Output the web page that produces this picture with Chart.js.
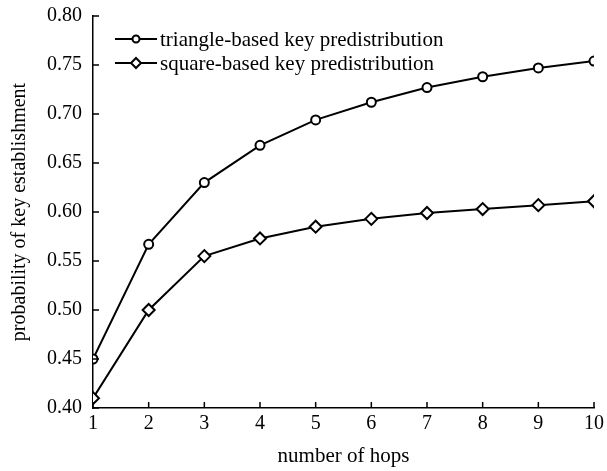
<!DOCTYPE html>
<html>
<head>
    <title>Key establishment</title>
    <script src="https://cdn.jsdelivr.net/npm/chart.js"></script>
    <style>
        body { margin: 0; padding: 0; background: #fff; }
        #wrap { width: 607px; height: 471px; }
    </style>
</head>
<body>
    <div id="wrap"><canvas id="myChart"></canvas></div>
    <script>
        const hops = [1, 2, 3, 4, 5, 6, 7, 8, 9, 10];
        const triangleVals = [0.450, 0.567, 0.630, 0.668, 0.694, 0.712, 0.727, 0.738, 0.747, 0.754];
        const squareVals = [0.410, 0.500, 0.555, 0.573, 0.585, 0.593, 0.599, 0.603, 0.607, 0.611];
        const seriesNames = ['triangle-based key predistribution', 'square-based key predistribution'];
        const yTicks = [0.40, 0.45, 0.50, 0.55, 0.60, 0.65, 0.70, 0.75, 0.80];

        const serif = "'Liberation Serif', 'DejaVu Serif', serif";

        // ticks pointing into the plot + line-with-marker legend
        const inwardTicks = {
            id: 'inwardTicks',
            afterDraw(chart) {
                const c = chart.ctx, a = chart.chartArea;
                const xs = chart.scales.x, ys = chart.scales.y;
                c.save();
                c.strokeStyle = '#000';
                c.lineWidth = 1.5;
                c.beginPath();
                hops.forEach(h => {
                    const px = xs.getPixelForValue(h);
                    c.moveTo(px, a.bottom);
                    c.lineTo(px, a.bottom - 6);
                });
                yTicks.forEach(v => {
                    const py = ys.getPixelForValue(v);
                    c.moveTo(a.left, py);
                    c.lineTo(a.left + 6, py);
                });
                c.stroke();

                // legend
                c.font = '21px ' + serif;
                c.textBaseline = 'middle';
                c.fillStyle = '#000';
                chart.data.datasets.forEach((ds, i) => {
                    const y = 39 + i * 24;
                    c.lineWidth = 2;
                    c.beginPath();
                    c.moveTo(115, y);
                    c.lineTo(157, y);
                    c.stroke();
                    c.fillStyle = '#fff';
                    c.beginPath();
                    if (ds.pointStyle === 'circle') {
                        c.arc(136, y, 3.5, 0, Math.PI * 2);
                    } else {
                        c.moveTo(136, y - 5); c.lineTo(141, y); c.lineTo(136, y + 5); c.lineTo(131, y); c.closePath();
                    }
                    c.fill();
                    c.stroke();
                    c.fillStyle = '#000';
                    c.fillText(ds.label, 160, y + 1);
                });
                c.restore();
            }
        };

        new Chart(document.getElementById('myChart'), {
            type: 'line',
            data: {
                datasets: [{
                    label: seriesNames[0],
                    data: hops.map((h, i) => ({ x: h, y: triangleVals[i] })),
                    borderColor: '#000',
                    borderWidth: 2,
                    pointStyle: 'circle',
                    pointRadius: 4.5,
                    pointBackgroundColor: '#fff',
                    pointBorderColor: '#000',
                    pointBorderWidth: 2,
                    tension: 0
                }, {
                    label: seriesNames[1],
                    data: hops.map((h, i) => ({ x: h, y: squareVals[i] })),
                    borderColor: '#000',
                    borderWidth: 2,
                    pointStyle: 'rectRot',
                    pointRadius: 6,
                    pointBackgroundColor: '#fff',
                    pointBorderColor: '#000',
                    pointBorderWidth: 2,
                    tension: 0
                }]
            },
            options: {
                responsive: true,
                maintainAspectRatio: false,
                animation: false,
                layout: { padding: { top: 16, right: 13, left: 0, bottom: 0 } },
                plugins: { legend: { display: false }, tooltip: { enabled: false } },
                scales: {
                    x: {
                        type: 'linear',
                        min: 1,
                        max: 10,
                        afterBuildTicks: s => { s.ticks = hops.map(v => ({ value: v })); },
                        afterFit: s => { s.height = 63; },
                        grid: { display: false },
                        border: { display: true, color: '#000', width: 1.5 },
                        ticks: { color: '#000', font: { family: serif, size: 20 }, padding: -4, maxRotation: 0 },
                        title: { display: true, text: 'number of hops', color: '#000', font: { family: serif, size: 21, lineHeight: 1 }, padding: { top: 0 } }
                    },
                    y: {
                        min: 0.40,
                        max: 0.80,
                        afterBuildTicks: s => { s.ticks = yTicks.map(v => ({ value: v })); },
                        afterFit: s => { s.width = 93; },
                        grid: { display: false },
                        border: { display: true, color: '#000', width: 1.5 },
                        ticks: { color: '#000', font: { family: serif, size: 20 }, padding: 3, callback: v => v.toFixed(2) },
                        title: { display: true, text: 'probability of key establishment', color: '#000', font: { family: serif, size: 20 }, padding: { top: 8 } }
                    }
                }
            },
            plugins: [inwardTicks]
        });
    </script>
</body>
</html>
